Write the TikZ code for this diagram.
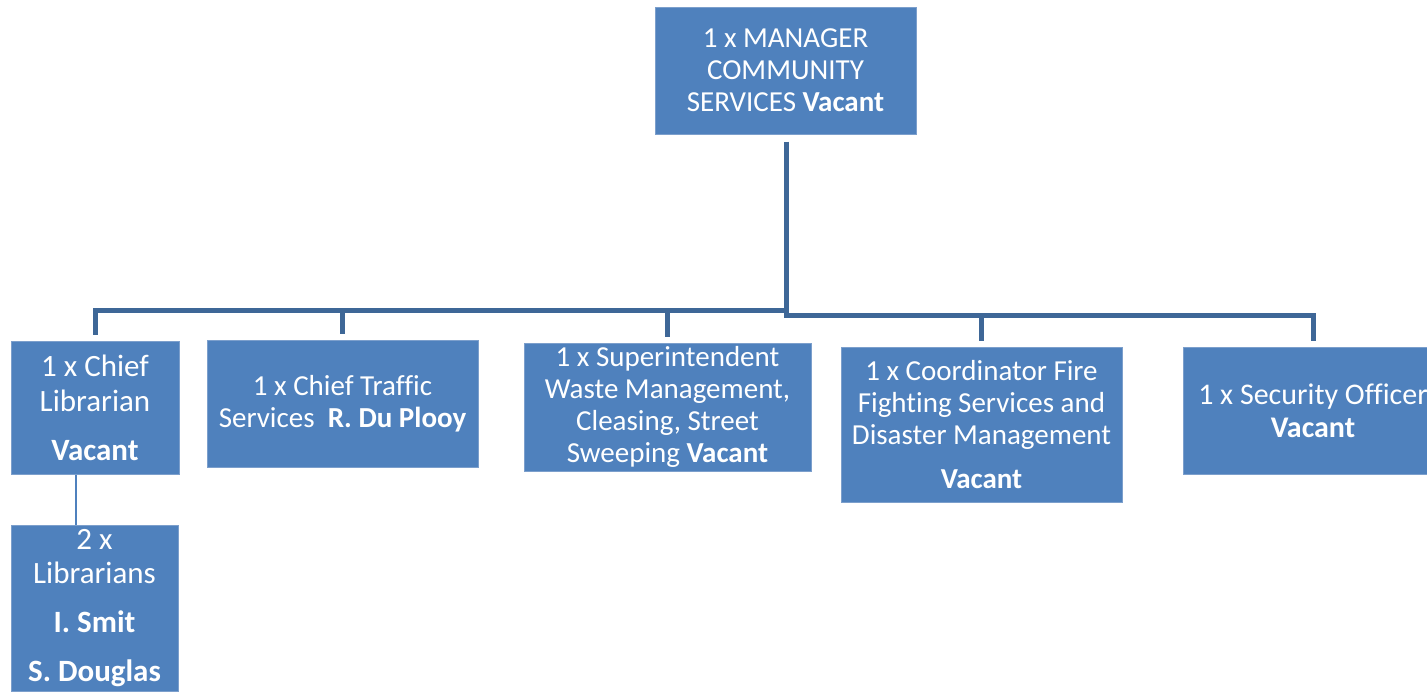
\documentclass[tikz,border=0pt]{standalone}
\usepackage{fontspec}
\setmainfont[Ligatures=NoCommon]{Carlito}
\definecolor{boxblue}{HTML}{4F81BD}
\definecolor{boxedge}{HTML}{7C9FCC}
\definecolor{busblue}{HTML}{3E6797}
\begin{document}
\begin{tikzpicture}[x=1pt,y=-1pt,
  post/.style={fill=boxblue, draw=boxedge, line width=1, text=white,
    align=center, inner sep=0, font=\fontsize{29}{32}\selectfont},
  bus/.style={draw=busblue, line width=5},
  link/.style={draw=boxblue, line width=2}]
\clip (0,0) rectangle (1427,691);

% posts
\node[post, minimum width=261, minimum height=127] (mgr) at (785.5,70.5)
  {1 x MANAGER\\COMMUNITY\\SERVICES \textbf{Vacant}};
\node[post, minimum width=168, minimum height=133,
  font=\fontsize{31}{35}\selectfont] (lib) at (95,408)
  {1 x Chief\\Librarian\\[14pt]\textbf{Vacant}};
\node[post, minimum width=271, minimum height=127] (traf) at (342.5,403.5)
  {1 x Chief Traffic\\Services\ \ \textbf{R. Du Plooy}};
\node[post, minimum width=287, minimum height=128] (sup) at (667.5,407)
  {1 x Superintendent\\Waste Management,\\Cleasing, Street\\Sweeping \textbf{Vacant}};
\node[post, minimum width=281, minimum height=155] (coord) at (981.5,424.5)
  {1 x Coordinator Fire\\Fighting Services and\\Disaster Management\\[12pt]\textbf{Vacant}};
\node[post, minimum width=260, minimum height=127,
  font=\fontsize{30}{33}\selectfont] (sec) at (1313,410.5)
  {1 x Security Officer\\\textbf{Vacant}};
\node[post, minimum width=167, minimum height=166,
  font=\fontsize{31}{34}\selectfont] (libs) at (94.5,608)
  {2 x\\Librarians\\[15pt]\textbf{I. Smit}\\[15pt]\textbf{S. Douglas}};

% junctions of the bus
\coordinate (jL) at (786,310);
\coordinate (jR) at (786,315);

% connectors
\draw[bus, shorten <=7, shorten >=6] (mgr.south -| jR) -- (jR) -| (sec.north);
\draw[bus, shorten >=6] (jR) -| (coord.north);
\draw[bus, shorten >=6] (jL) -| (lib.north);
\draw[bus, shorten >=6] (jL) -| (traf.north);
\draw[bus, shorten >=6] (jL) -| (sup.north);
\draw[link] (lib.south -| 76,0) -- (libs.north -| 76,0);
\end{tikzpicture}
\end{document}
